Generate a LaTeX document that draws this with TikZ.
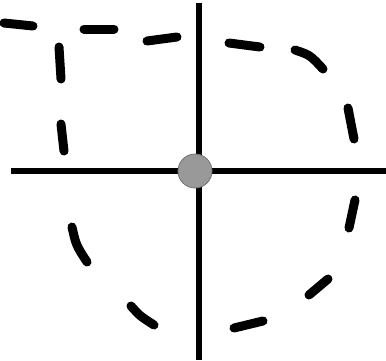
\documentclass[tikz,border=0pt]{standalone}

\tikzset{
   axis/.style={line width=5.5pt},
   seg/.style={line width=9pt, line cap=round}
}

\begin{document}
\begin{tikzpicture}[x=1pt, y=-1pt]
   \useasboundingbox (0,0) rectangle (386,360);

   \coordinate (top) at (199,3);
   \coordinate (bottom) at (199,360);
   \coordinate (left) at (11,171);
   \coordinate (right) at (386,171);

   \draw[axis] (top) -- (bottom);
   \draw[axis] (left) -- (right);
   \node[circle, fill=black!40, draw=black!55, thick, minimum size=34pt, inner sep=0pt] (pivot) at (195,171) {};

   % dashed outline, one stroke per dash
   \foreach \xa/\ya/\xb/\yb in {4/23/33/26, 84/29/114/29, 147/41/177/37,
                      59/47/61/79, 61/124/64/151, 229/43/260/47,
                      348/108/354/139, 355/200/349/228,
                      328/279/309/295, 234/328/263/321}
      \draw[seg] (\xa,\ya) -- (\xb,\yb);
   \draw[seg] (295,50) .. controls (310,55) .. (323,69);
   \draw[seg] (72,227) .. controls (76,245) .. (87,262);
   \draw[seg] (131,306) .. controls (140,316) .. (154,325);
\end{tikzpicture}
\end{document}
